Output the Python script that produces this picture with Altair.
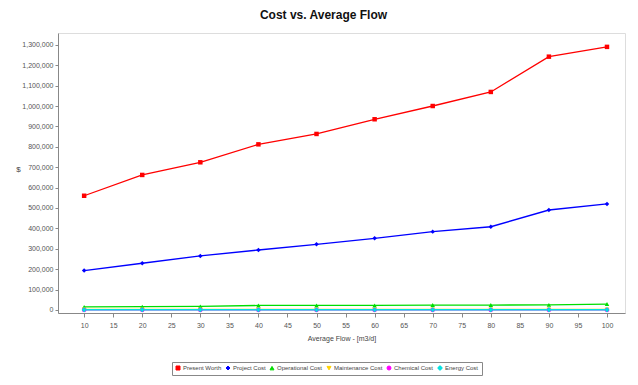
import altair as alt
import pandas as pd

flow = [10, 20, 30, 40, 50, 60, 70, 80, 90, 100]
present_worth = [560000, 662000, 724000, 812000, 863000, 935000, 1000000, 1069000, 1242000, 1290000]
project_cost = [193000, 229000, 265000, 294000, 322000, 351000, 384000, 408000, 490000, 520000]
operational_cost = [15000, 16000, 17000, 22000, 22000, 22000, 24000, 24000, 25000, 29000]
maintenance_cost = [3000, 3000, 3000, 3000, 3000, 3000, 3000, 3000, 3000, 3000]
chemical_cost = [0, 0, 0, 0, 0, 0, 0, 0, 0, 0]
energy_cost = [1000, 1000, 1000, 1000, 1000, 1000, 1000, 1000, 1000, 1000]

series_names = ["Present Worth", "Project Cost", "Operational Cost",
                "Maintenance Cost", "Chemical Cost", "Energy Cost"]
series_colors = ["#ff0000", "#0000ff", "#00dd00", "#ffd200", "#ff00ff", "#00e0e0"]
series_shapes = ["square", "diamond", "triangle-up", "triangle-down", "circle", "cross"]

x_ticks = [10, 15, 20, 25, 30, 35, 40, 45, 50, 55, 60, 65, 70, 75, 80, 85, 90, 95, 100]
y_ticks = [0, 100000, 200000, 300000, 400000, 500000, 600000, 700000, 800000,
           900000, 1000000, 1100000, 1200000, 1300000]

values = [present_worth, project_cost, operational_cost,
          maintenance_cost, chemical_cost, energy_cost]
rows = []
for name, vals in zip(series_names, values):
    for f, v in zip(flow, vals):
        rows.append({"series": name, "flow": f, "value": v})
df = pd.DataFrame(rows)

FONT = "Liberation Sans"

color = alt.Color("series:N", sort=series_names,
                  scale=alt.Scale(domain=series_names, range=series_colors),
                  legend=alt.Legend(title=None, orient="none", direction="horizontal",
                                    legendX=114, legendY=329, strokeColor="#888888",
                                    padding=3, labelFontSize=6, symbolSize=16,
                                    columnPadding=2, labelOffset=2, symbolStrokeWidth=1,
                                    labelColor="#444444", labelFont=FONT))
shape = alt.Shape("series:N", sort=series_names,
                  scale=alt.Scale(domain=series_names, range=series_shapes),
                  legend=None)

x = alt.X("flow:Q", scale=alt.Scale(domain=[5.5, 103.1], nice=False, zero=False),
          axis=alt.Axis(values=x_ticks, title="Average Flow - [m3/d]", grid=False,
                        labelFontSize=7, titleFontSize=7, titleFontWeight="normal",
                        labelColor="#555555", titleColor="#444444", tickSize=4,
                        labelPadding=4, titlePadding=6, domainColor="#888888",
                        tickColor="#888888", labelFont=FONT, titleFont=FONT))
y = alt.Y("value:Q", scale=alt.Scale(domain=[-15000, 1358000], nice=False, zero=False),
          axis=alt.Axis(values=y_ticks, format=",d", title="$", grid=False,
                        labelFontSize=7, titleFontSize=8, titleFontWeight="normal",
                        titleAngle=0, labelColor="#555555", titleColor="#444444",
                        tickSize=3, labelPadding=2, titlePadding=4, domainColor="#888888",
                        tickColor="#888888", labelFont=FONT, titleFont=FONT))

base = alt.Chart(df)
lines = base.mark_line(strokeWidth=1.3).encode(x=x, y=y, color=color, detail="series:N")
points = base.mark_point(filled=True, size=20, opacity=1).encode(x=x, y=y, color=color, shape=shape)

chart = (lines + points).properties(
    width=567, height=280,
    autosize=alt.AutoSizeParams(type="none"),
    padding={"left": 50, "top": 25, "right": 5, "bottom": 64},
    title=alt.TitleParams("Cost vs. Average Flow", fontSize=12, fontWeight="bold",
                          font=FONT, anchor="middle", dx=-18, offset=11, color="#111111"),
).configure_view(stroke="#999999", fill="#f8f8f8").configure(background="white")

chart.save("out.html", embed_options={"renderer": "svg", "actions": False})
